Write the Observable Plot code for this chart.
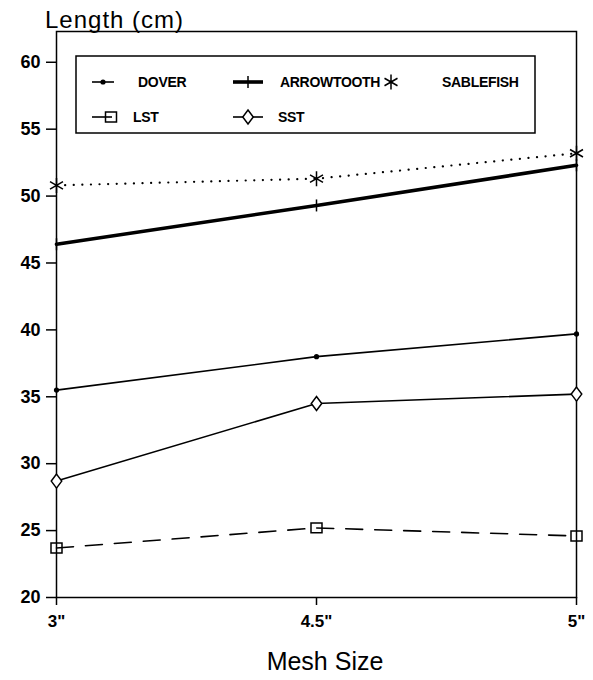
<!DOCTYPE html>
<html><head><meta charset="utf-8">
<script src="https://cdn.jsdelivr.net/npm/d3@7"></script>
<script src="https://cdn.jsdelivr.net/npm/@observablehq/plot@0.6"></script>
<style>
body{margin:0;background:#fff;}
#fig{position:relative;width:593px;height:680px;font-family:"Liberation Sans",Arial,Helvetica,sans-serif;}
#chart,#overlay{position:absolute;left:0;top:0;}
</style></head><body>
<div id="fig"><div id="chart"></div></div>
<script>
// ---- data ----
const meshSizes = ['3"', '4.5"', '5"'];
const species = ["DOVER", "LST", "ARROWTOOTH", "SST", "SABLEFISH"];
const dover = [35.5, 38.0, 39.7];
const lst = [23.7, 25.2, 24.6];
const arrowtooth = [46.4, 49.3, 52.3];
const sst = [28.7, 34.5, 35.2];
const sablefish = [50.8, 51.3, 53.2];
const yTicks = [20, 25, 30, 35, 40, 45, 50, 55, 60];
const yLabel = "Length (cm)";
const xLabel = "Mesh Size";

const series = {DOVER: dover, LST: lst, ARROWTOOTH: arrowtooth, SST: sst, SABLEFISH: sablefish};
const rows = species.flatMap(s => meshSizes.map((m, i) => ({species: s, mesh: m, value: series[s][i]})));
const of = s => rows.filter(d => d.species === s);

// custom symbols
const rad = size => Math.sqrt(size / Math.PI);
const vtick = {draw(ctx, size) { const r = rad(size); ctx.moveTo(0, -r); ctx.lineTo(0, r); }};
const box = {draw(ctx, size) { const r = rad(size); ctx.rect(-r, -r * 0.9, 2 * r, 1.8 * r); }};
const tallDiamond = {draw(ctx, size) { const r = rad(size); const w = r * 0.75, h = r; ctx.moveTo(0, -h); ctx.lineTo(w, 0); ctx.lineTo(0, h); ctx.lineTo(-w, 0); ctx.closePath(); }};
const star = {draw(ctx, size) { const r = rad(size); const c = r * Math.cos(Math.PI / 6), s = r / 2;
  ctx.moveTo(0, -r); ctx.lineTo(0, r); ctx.moveTo(-c, -s); ctx.lineTo(c, s); ctx.moveTo(-c, s); ctx.lineTo(c, -s); }};

const styles = {
  DOVER: {line: {strokeWidth: 1.6}, dot: {symbol: "circle", r: 2.6, fill: "black", stroke: "none"}},
  LST: {line: {strokeWidth: 1.6, strokeDasharray: "17 12"}, dot: {symbol: box, r: 5.5, fill: "none", stroke: "black", strokeWidth: 1.5}},
  ARROWTOOTH: {line: {strokeWidth: 3.6}, dot: {symbol: vtick, r: 6, fill: "none", stroke: "black", strokeWidth: 1.5}},
  SST: {line: {strokeWidth: 1.6}, dot: {symbol: tallDiamond, r: 7, fill: "white", stroke: "black", strokeWidth: 1.5}},
  SABLEFISH: {line: {strokeWidth: 2.2, strokeDasharray: "0.1 8.5", strokeLinecap: "round"}, dot: {symbol: star, r: 7.5, fill: "none", stroke: "black", strokeWidth: 1.5}}
};

const marks = [
  Plot.frame({stroke: "black", strokeWidth: 1.5}),
  Plot.axisY({ticks: yTicks, tickSize: 10, tickPadding: 6, fontSize: 18, label: null, strokeWidth: 1.5}),
  Plot.axisX({tickSize: 8, tickPadding: 9, fontSize: 17, label: null, strokeWidth: 1.5})
];
for (const s of species) {
  marks.push(Plot.line(of(s), {x: "mesh", y: "value", stroke: "black", ...styles[s].line}));
}
for (const s of species) {
  marks.push(Plot.dot(of(s), {x: "mesh", y: "value", ...styles[s].dot}));
}

const chart = Plot.plot({
  width: 593, height: 680,
  marginTop: 31, marginBottom: 83, marginLeft: 56, marginRight: 17,
  style: {fontFamily: "Liberation Sans, Arial, sans-serif", fontWeight: "bold", color: "black", background: "white", overflow: "visible"},
  x: {type: "point", domain: meshSizes, padding: 0},
  y: {domain: [20, 62.3]},
  marks
});
document.getElementById("chart").append(chart);

// ---- overlay: titles and legend ----
const ov = d3.select("#fig").append("svg").attr("id", "overlay")
  .attr("width", 593).attr("height", 680)
  .style("font-family", "Liberation Sans, Arial, sans-serif");

ov.append("text").attr("x", 45).attr("y", 28).attr("font-size", 24).attr("letter-spacing", 1).text(yLabel);
ov.append("text").attr("x", 325).attr("y", 670).attr("text-anchor", "middle").attr("font-size", 25).text(xLabel);

const lg = ov.append("g");
lg.append("rect").attr("x", 76).attr("y", 56).attr("width", 459).attr("height", 77)
  .attr("fill", "white").attr("stroke", "black").attr("stroke-width", 1.5);

const legendItems = [
  {s: "DOVER", row: 0, x0: 92, x1: 114, mx: 103, tx: 138},
  {s: "ARROWTOOTH", row: 0, x0: 233, x1: 263, mx: 248, tx: 280},
  {s: "SABLEFISH", row: 0, x0: null, x1: null, mx: 391, tx: 442},
  {s: "LST", row: 1, x0: 92, x1: 112, mx: 111, tx: 133},
  {s: "SST", row: 1, x0: 233, x1: 263, mx: 248, tx: 278}
];
const rowY = [82, 117];
for (const it of legendItems) {
  const y = rowY[it.row];
  const st = styles[it.s];
  if (it.x0 != null) {
    lg.append("line").attr("x1", it.x0).attr("x2", it.x1).attr("y1", y).attr("y2", y)
      .attr("stroke", "black").attr("stroke-width", st.line.strokeWidth);
  }
  const sym = typeof st.dot.symbol === "string" ? d3.symbolCircle : st.dot.symbol;
  lg.append("path").attr("transform", `translate(${it.mx},${y})`)
    .attr("d", d3.symbol(sym, st.dot.r * st.dot.r * Math.PI)())
    .attr("fill", st.dot.fill).attr("stroke", st.dot.stroke).attr("stroke-width", st.dot.strokeWidth || 0);
  lg.append("text").attr("x", it.tx).attr("y", y + 5).attr("font-size", 14).attr("font-weight", "bold")
    .attr("letter-spacing", -0.3).text(it.s);
}
</script>
</body></html>
